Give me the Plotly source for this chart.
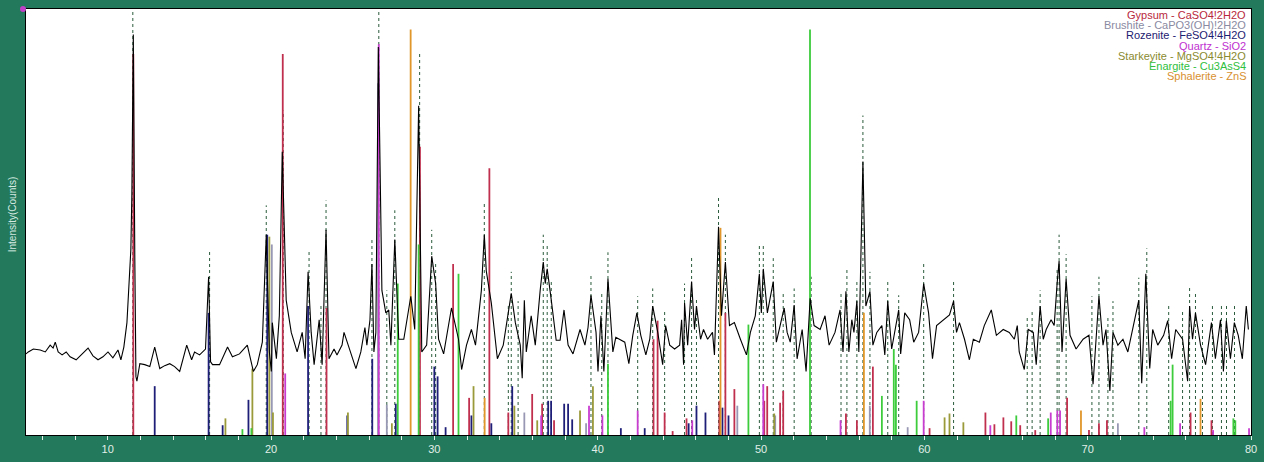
import plotly.graph_objects as go

# ---------------- measured pattern (2-theta in degrees, intensity in counts) ----------------
two_theta = [
    5.00, 5.14, 5.45, 5.87, 6.18, 6.48, 6.66, 6.79, 6.97, 7.21,
    7.46, 7.70, 8.07, 8.43, 8.80, 9.10, 9.41, 9.71, 10.02, 10.32,
    10.63, 10.81, 10.99, 11.18, 11.30, 11.42, 11.48, 11.57, 11.66, 11.73,
    11.79, 11.97, 12.27, 12.58, 12.88, 13.19, 13.49, 13.80, 14.10, 14.41,
    14.84, 15.14, 15.32, 15.63, 15.99, 16.18, 16.30, 16.42, 16.85, 17.34,
    17.64, 18.07, 18.55, 18.92, 19.16, 19.47, 19.71, 19.90, 20.02, 20.08,
    20.33, 20.51, 20.69, 20.93, 21.24, 21.60, 21.91, 22.09, 22.27, 22.46,
    22.64, 22.95, 23.13, 23.37, 23.55, 23.86, 24.04, 24.35, 24.47, 24.77,
    25.20, 25.50, 25.75, 25.87, 26.06, 26.18, 26.30, 26.42, 26.57, 26.79,
    27.03, 27.21, 27.34, 27.58, 27.82, 28.13, 28.56, 28.80, 29.04, 29.23,
    29.53, 29.84, 30.08, 30.26, 30.57, 31.05, 31.48, 31.67, 31.97, 32.27,
    32.52, 32.88, 33.06, 33.18, 33.49, 33.86, 34.22, 34.71, 34.96, 35.26,
    35.38, 35.51, 35.63, 35.93, 36.18, 36.48, 36.67, 36.79, 36.91, 37.16,
    37.46, 37.70, 37.94, 38.19, 38.49, 38.92, 39.22, 39.41, 39.59, 39.90,
    40.02, 40.20, 40.38, 40.63, 40.93, 41.11, 41.66, 41.91, 42.15, 42.40,
    42.64, 42.95, 43.19, 43.37, 43.68, 43.98, 44.16, 44.41, 44.71, 45.02,
    45.14, 45.26, 45.32, 45.51, 45.75, 45.93, 46.05, 46.30, 46.48, 46.73,
    47.03, 47.15, 47.40, 47.58, 47.82, 48.07, 48.37, 48.74, 49.11, 49.35,
    49.65, 49.90, 50.02, 50.14, 50.39, 50.75, 50.94, 51.17, 51.42, 51.60,
    51.79, 52.03, 52.21, 52.52, 52.76, 53.01, 53.25, 53.62, 53.92, 54.17,
    54.53, 54.84, 55.02, 55.20, 55.38, 55.56, 55.69, 55.87, 55.99, 56.24,
    56.42, 56.67, 56.85, 57.09, 57.40, 57.58, 57.76, 58.00, 58.43, 58.55,
    58.80, 59.10, 59.35, 59.65, 59.96, 60.26, 60.50, 60.75, 61.17, 61.54,
    61.79, 61.97, 62.15, 62.46, 62.76, 63.00, 63.37, 63.67, 64.10, 64.41,
    64.83, 65.20, 65.51, 65.69, 65.81, 66.12, 66.36, 66.67, 66.85, 67.09,
    67.28, 67.46, 67.76, 67.95, 68.13, 68.25, 68.43, 68.68, 68.92, 69.29,
    69.72, 70.08, 70.33, 70.69, 70.94, 71.12, 71.36, 71.55, 71.85, 72.16,
    72.46, 72.76, 73.13, 73.31, 73.56, 73.80, 73.98, 74.29, 74.65, 74.90,
    75.14, 75.39, 75.81, 76.12, 76.24, 76.42, 76.60, 76.91, 77.22, 77.58,
    77.82, 78.13, 78.31, 78.49, 78.74, 78.98, 79.22, 79.47, 79.71, 79.84,
]
counts = [
    830, 850, 880, 870, 850, 920, 890, 950, 850, 820,
    850, 800, 770, 830, 890, 810, 770, 800, 850, 790,
    870, 770, 900, 1150, 1550, 1900, 2450, 4100, 1850, 600,
    550, 730, 720, 700, 900, 680, 710, 730, 700, 650,
    920, 770, 850, 820, 880, 1620, 750, 720, 720, 900,
    800, 830, 920, 650, 720, 950, 2050, 850, 650, 1150,
    780, 1220, 2900, 1380, 1050, 850, 1050, 780, 1670, 1050,
    720, 1180, 720, 2100, 780, 880, 820, 920, 1050, 900,
    680, 850, 1100, 920, 1180, 1750, 850, 1050, 3970, 1480,
    1250, 1280, 920, 2000, 980, 980, 1420, 1080, 3370, 850,
    920, 1830, 1550, 980, 830, 1300, 980, 670, 920, 1080,
    920, 1480, 2050, 1680, 1350, 780, 920, 1450, 1150, 920,
    580, 1380, 850, 1220, 920, 1480, 1770, 1550, 1700, 1380,
    970, 970, 1280, 920, 830, 1080, 920, 1100, 1430, 1050,
    650, 1220, 650, 1600, 850, 1000, 950, 730, 1020, 1250,
    1020, 820, 980, 1320, 1050, 720, 1120, 920, 880, 920,
    1180, 720, 1350, 920, 1570, 1080, 1320, 980, 1080, 980,
    1050, 820, 2130, 1220, 1770, 1120, 1150, 980, 820, 1050,
    1220, 1650, 1250, 1700, 1250, 1570, 950, 1120, 1300, 1050,
    950, 1330, 780, 1080, 650, 1400, 1120, 1080, 1220, 920,
    1050, 1280, 850, 1470, 850, 1180, 1050, 1370, 850, 2800,
    1320, 1470, 920, 1050, 1120, 820, 1370, 880, 1280, 830,
    1250, 1180, 950, 1050, 1550, 1250, 780, 1120, 1180, 1230,
    1370, 1050, 1150, 980, 770, 980, 950, 1120, 1280, 1020,
    1080, 1050, 980, 1120, 850, 670, 1080, 1050, 720, 1320,
    980, 1080, 1180, 1120, 1550, 1780, 850, 1600, 1020, 880,
    980, 1020, 520, 1420, 920, 1080, 450, 1050, 920, 980,
    850, 1080, 1380, 530, 1650, 680, 1080, 920, 1020, 1170,
    780, 1080, 980, 550, 1320, 980, 1250, 920, 720, 1150,
    780, 1180, 650, 1170, 780, 1150, 1020, 780, 1320, 1080,
]
assert len(two_theta) == len(counts), (len(two_theta), len(counts))

# ---------------- identified peak markers ----------------
marker_pos = [
    11.54, 16.24, 19.71, 20.75, 22.33, 23.06, 23.37, 26.18, 26.60, 27.09,
    27.58, 29.10, 29.84, 30.08, 33.06, 34.53, 34.71, 35.13, 36.67, 36.91,
    37.16, 39.59, 40.25, 40.63, 42.45, 43.37, 44.10, 45.32, 45.75, 46.05,
    47.40, 47.82, 49.90, 50.14, 50.75, 51.36, 52.03, 53.07, 54.90, 55.26,
    55.87, 56.24, 56.67, 57.76, 58.43, 59.96, 61.79, 66.30, 66.60, 67.09,
    68.13, 68.25, 68.68, 70.26, 70.69, 71.24, 71.55, 73.13, 73.62, 74.96,
    75.81, 76.24, 76.60, 77.03, 77.64, 78.19, 78.50, 78.99,
]
marker_top = [
    4350, 1900, 2350, 3320, 1900, 1350, 2400, 2000, 4330, 1480,
    2300, 3900, 2100, 1750, 2380, 1320, 1670, 1370, 2050, 1950,
    1580, 1650, 1470, 1870, 1420, 1500, 1270, 1550, 1830, 1400,
    2450, 2050, 1950, 1950, 1810, 1450, 1500, 1620, 1470, 1700,
    1570, 3270, 1670, 1570, 1430, 1770, 1570, 1220, 1260, 1480,
    1700, 2050, 1850, 1420, 1620, 1220, 1370, 1610, 1910, 1320,
    1260, 1520, 1450, 1180, 1320, 1320, 1320, 1320,
]

# ---------------- reference patterns (stick positions / heights) ----------------
phase_names = [
    "Gypsum - CaSO4!2H2O",
    "Brushite - CaPO3(OH)!2H2O",
    "Rozenite - FeSO4!4H2O",
    "Quartz - SiO2",
    "Starkeyite - MgSO4!4H2O",
    "Enargite - Cu3AsS4",
    "Sphalerite - ZnS",
]
phase_colors = ["#c0304e", "#9898b4", "#1e1e78", "#c83cd0", "#9a9a3a", "#3ccc3c", "#e0962a"]
legend_colors = ["#b8283c", "#8a8aa2", "#1c2070", "#c030d0", "#8a8a30", "#30c040", "#d89030"]

gypsum_pos = [11.57, 20.72, 23.40, 29.12, 31.15, 32.13, 33.37, 34.53, 35.99, 36.60,
              37.33, 43.42, 43.67, 44.10, 44.59, 45.44, 47.45, 47.82, 48.37, 50.20,
              50.38, 51.17, 51.36, 55.20, 55.87, 56.85, 60.32, 63.74, 64.29, 64.84,
              65.32, 65.87, 66.79, 68.74, 70.08, 70.69, 71.18, 76.30, 77.58]
gypsum_int = [3900, 3900, 1300, 2950, 1750, 380, 2730, 230, 420, 320,
              150, 980, 1170, 230, 40, 170, 350, 1250, 470, 350,
              500, 330, 450, 220, 150, 700, 70, 230, 110, 180,
              140, 100, 50, 380, 50, 120, 150, 230, 150]

brushite_pos = [20.05, 26.55, 27.09, 35.51, 39.29, 48.55, 50.87, 56.66, 58.98, 71.85]
brushite_int = [1950, 3600, 310, 230, 120, 300, 200, 300, 80, 120]

rozenite_pos = [12.88, 16.18, 17.04, 18.62, 19.77, 22.27, 24.67, 26.20, 27.64, 30.00,
                30.20, 30.69, 32.27, 33.49, 34.77, 36.97, 37.15, 37.95, 38.19, 38.44,
                41.42, 42.88, 45.57, 46.05, 46.60, 47.64, 48.01]
rozenite_int = [500, 1250, 100, 360, 2050, 1320, 200, 780, 320, 700,
                600, 80, 200, 120, 500, 350, 350, 320, 320, 160,
                70, 70, 120, 300, 230, 280, 200]

quartz_pos = [20.87, 26.60, 36.54, 39.47, 40.29, 42.45, 45.79, 50.14, 54.87, 59.96,
              64.04, 67.74, 68.14, 68.31, 73.47, 75.66, 77.68, 79.88]
quartz_int = [630, 4000, 200, 300, 200, 250, 150, 520, 150, 350,
              100, 230, 250, 250, 80, 120, 50, 70]

starkeyite_pos = [17.21, 18.86, 19.90, 20.12, 24.71, 27.40, 32.40, 34.90, 36.30, 38.92,
                  39.71, 50.81, 61.24, 61.54, 62.39]
starkeyite_int = [170, 680, 2030, 230, 230, 120, 500, 300, 150, 250,
                  500, 220, 180, 220, 130]

enargite_pos = [18.25, 18.80, 27.76, 29.04, 31.48, 40.63, 49.23, 53.00, 57.40, 58.13,
                58.26, 59.53, 65.63, 67.58, 75.08, 75.20, 78.92, 79.04]
enargite_int = [60, 70, 1550, 1950, 1650, 730, 1130, 4150, 400, 880,
                720, 350, 200, 170, 350, 720, 170, 150]

sphalerite_pos = [28.55, 33.08, 47.52, 56.30, 69.59, 76.91]
sphalerite_int = [4150, 380, 2120, 1250, 250, 370]

phase_pos = [gypsum_pos, brushite_pos, rozenite_pos, quartz_pos,
             starkeyite_pos, enargite_pos, sphalerite_pos]
phase_int = [gypsum_int, brushite_int, rozenite_int, quartz_int,
             starkeyite_int, enargite_int, sphalerite_int]


def stick_path(pos, heights, base=0):
    """Vertical segments from base to each height, separated by gaps."""
    xs, ys = [], []
    for p, h in zip(pos, heights):
        xs += [p, p, None]
        ys += [base, h, None]
    return xs, ys


fig = go.Figure()

# peak markers (dotted)
mx, my = stick_path(marker_pos, marker_top)
fig.add_trace(go.Scatter(x=mx, y=my, mode="lines",
                         line=dict(color="#2b5c3c", width=1, dash="dot"),
                         hoverinfo="skip", showlegend=False))

# reference sticks
for name, col, pos, inten in zip(phase_names, phase_colors, phase_pos, phase_int):
    sx, sy = stick_path(pos, inten)
    fig.add_trace(go.Scatter(x=sx, y=sy, mode="lines", name=name,
                             line=dict(color=col, width=1.8),
                             showlegend=False))

# measured pattern
fig.add_trace(go.Scatter(x=two_theta, y=counts, mode="lines", name="Pattern",
                         line=dict(color="black", width=1.1), showlegend=False))

# phase legend as right-aligned coloured labels
legend_y_px = [15, 25.5, 36, 46.5, 57, 67.5, 78]
plot_top, plot_bottom = 9, 445
for name, col, ypx in zip(phase_names, legend_colors, legend_y_px):
    fig.add_annotation(
        text=name, xref="paper", yref="paper",
        x=1, y=(plot_bottom - ypx) / (plot_bottom - plot_top),
        xanchor="right", yanchor="middle", xshift=-3, showarrow=False,
        font=dict(family="Liberation Sans, Arial, sans-serif", size=11, color=col),
    )

# y-axis title
fig.add_annotation(
    text="Intensity(Counts)", xref="paper", yref="paper",
    x=-14 / 1231, y=(plot_bottom - 219) / (plot_bottom - plot_top),
    xanchor="center", yanchor="middle", textangle=-90, showarrow=False,
    font=dict(family="Liberation Sans, Arial, sans-serif", size=10, color="#d6e9e1"),
)

# small marker dot at the top-left corner
fig.add_shape(type="circle", xref="paper", yref="paper",
              x0=-6 / 1231, x1=0 / 1231, y0=1 - 3 / 436, y1=1 + 3 / 436,
              fillcolor="#c040c8", line=dict(color="#c040c8", width=0))

tick_col = "#e2efe9"
fig.update_layout(
    width=1264, height=462,
    margin=dict(l=26, r=7, t=9, b=17),
    paper_bgcolor="#22795b",
    plot_bgcolor="white",
    showlegend=False,
    xaxis=dict(
        range=[5, 80], showgrid=False, zeroline=False,
        showline=True, linecolor="black", linewidth=1, mirror=True,
        tickmode="linear", tick0=0, dtick=10,
        ticks="outside", ticklen=4, tickcolor=tick_col, tickwidth=1,
        minor=dict(dtick=2, tick0=0, ticks="outside", ticklen=4, tickcolor=tick_col, showgrid=False),
        tickfont=dict(family="Liberation Sans, Arial, sans-serif", size=11, color=tick_col),
    ),
    yaxis=dict(
        range=[0, 4360], showgrid=False, zeroline=False,
        showline=True, linecolor="black", linewidth=1, mirror=True,
        showticklabels=False, ticks="",
    ),
)

fig.write_html("out.html")
